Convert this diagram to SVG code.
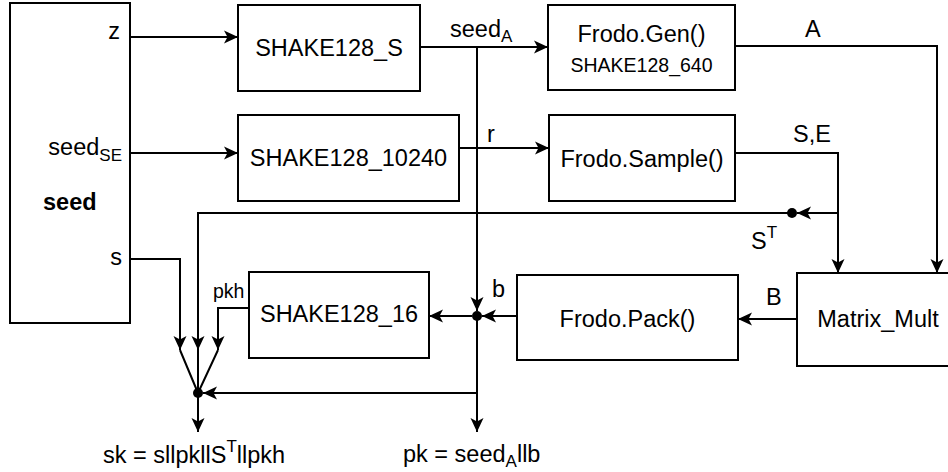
<svg xmlns="http://www.w3.org/2000/svg" width="948" height="472" viewBox="0 0 948 472">
<defs>
<style>
.box{fill:#fff;stroke:#000;stroke-width:2}
.ln{fill:none;stroke:#000;stroke-width:2}
.t{font-family:"Liberation Sans",Arial,Helvetica,sans-serif;font-size:23.5px;fill:#000}
.c{text-anchor:middle}
.e{text-anchor:end}
.s{font-size:19.5px}
.b{font-weight:bold}
</style>
<marker id="arr" markerWidth="16" markerHeight="14" refX="15" refY="7" orient="auto" markerUnits="userSpaceOnUse" viewBox="0 0 16 14">
<path d="M15,7 L1,0.5 L4.5,7 L1,13.5 Z" fill="#000"/>
</marker>
</defs>
<rect width="948" height="472" fill="#fff"/>

<g id="connectors">
<path class="ln" d="M130,37 H238" marker-end="url(#arr)"/>
<path class="ln" d="M130,153 H238" marker-end="url(#arr)"/>
<path class="ln" d="M420,47 H548" marker-end="url(#arr)"/>
<path class="ln" d="M459,148 H549" marker-end="url(#arr)"/>
<path class="ln" d="M477,47 V311" marker-end="url(#arr)"/>
<path class="ln" d="M517,316 H482" marker-end="url(#arr)"/>
<path class="ln" d="M472,316 H429" marker-end="url(#arr)"/>
<path class="ln" d="M477,316 V432" marker-end="url(#arr)"/>
<path class="ln" d="M477,393 H203" marker-end="url(#arr)"/>
<path class="ln" d="M735,46 H937 V273" marker-end="url(#arr)"/>
<path class="ln" d="M735,153 H838 V273" marker-end="url(#arr)"/>
<path class="ln" d="M838,213 H797" marker-end="url(#arr)"/>
<path class="ln" d="M792,213 H198 V350" marker-end="url(#arr)"/>
<path class="ln" d="M797,319 H738" marker-end="url(#arr)"/>
<path class="ln" d="M130,259 H180 V350" marker-end="url(#arr)"/>
<path class="ln" d="M249,308 H218 V350" marker-end="url(#arr)"/>
<path class="ln" d="M180,350 L198,393 M218,350 L198,393 M198,350 V393"/>
<path class="ln" d="M198,393 V432" marker-end="url(#arr)"/>
<circle cx="198" cy="393" r="5" fill="#000"/>
<circle cx="477" cy="316" r="5" fill="#000"/>
<circle cx="792" cy="213" r="5" fill="#000"/>
<text class="t" x="450" y="37">seed<tspan font-size="17" dy="5">A</tspan></text>
<text class="t" x="487" y="142">r</text>
<text class="t" x="805" y="37">A</text>
<text class="t" x="793" y="142">S,E</text>
<text class="t" x="751" y="249">S<tspan font-size="17" dy="-11">T</tspan></text>
<text class="t" x="766" y="305">B</text>
<text class="t" x="492" y="297">b</text>
<text class="t s" x="213" y="298">pkh</text>
</g>

<g id="seed">
<rect class="box" x="10" y="3" width="120" height="320"/>
<text class="t e" x="120" y="39">z</text>
<text class="t e" x="122" y="155">seed<tspan font-size="17" dy="6">SE</tspan></text>
<text class="t b" x="43" y="210">seed</text>
<text class="t e" x="122" y="265">s</text>
</g>

<g id="shake128_s">
<rect class="box" x="238" y="5" width="182" height="86"/>
<text class="t c" x="329" y="56">SHAKE128_S</text>
</g>

<g id="shake128_10240">
<rect class="box" x="238" y="115" width="221" height="86"/>
<text class="t c" x="348.5" y="166">SHAKE128_10240</text>
</g>

<g id="frodo_gen">
<rect class="box" x="548" y="5" width="187" height="85"/>
<text class="t c" x="641.5" y="42">Frodo.Gen()</text>
<text class="t c s" x="641.5" y="72">SHAKE128_640</text>
</g>

<g id="frodo_sample">
<rect class="box" x="549" y="115" width="186" height="86"/>
<text class="t c" x="642" y="167">Frodo.Sample()</text>
</g>

<g id="matrix_mult">
<rect class="box" x="797" y="273" width="170" height="93"/>
<text class="t c" x="878" y="327">Matrix_Mult</text>
</g>

<g id="frodo_pack">
<rect class="box" x="517" y="275" width="221" height="85"/>
<text class="t c" x="627.5" y="327">Frodo.Pack()</text>
</g>

<g id="shake128_16">
<rect class="box" x="249" y="272" width="180" height="86"/>
<text class="t c" x="339" y="322">SHAKE128_16</text>
</g>

<g id="outputs">
<text class="t" x="103" y="463">sk = sllpkllS<tspan font-size="17" dy="-11">T</tspan><tspan dy="11">llpkh</tspan></text>
<text class="t" x="403" y="462">pk = seed<tspan font-size="17" dy="5">A</tspan><tspan dy="-5">llb</tspan></text>
</g>
</svg>
